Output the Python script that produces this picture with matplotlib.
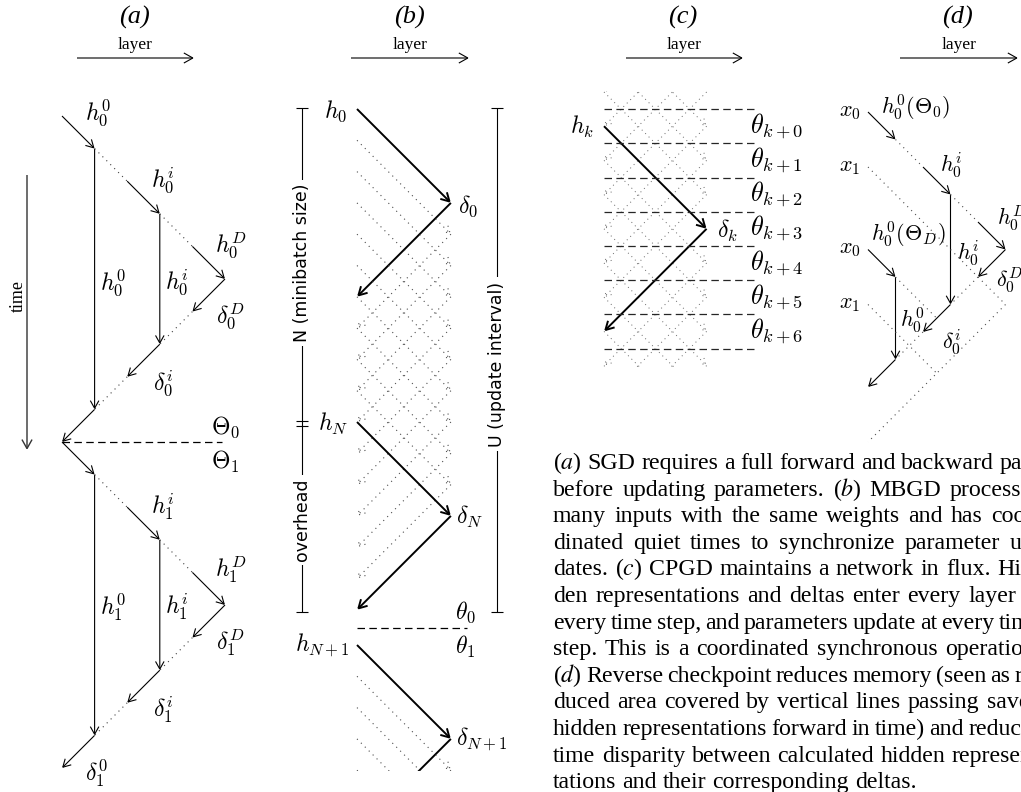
import re
import matplotlib.pyplot as plt
from matplotlib.patches import FancyArrowPatch, Rectangle

plt.rcParams['mathtext.fontset'] = 'cm'
plt.rcParams['font.family'] = ['Liberation Serif', 'DejaVu Serif']

W, H = 1021, 792

# ---------------------------------------------------------------- data
# panel titles and the small "layer" arrows
titles = ['(a)', '(b)', '(c)', '(d)']
title_x = [134, 409, 683, 957]
layer_arrows = [(77, 194), (351, 469), (626, 743), (900, 1018)]

# (a) SGD -- grid of layers (columns) and time steps (rows)
a_origin = (62, 116)
a_step = 32.6
a_cycle_edges = [            # (c0, r0, c1, r1, kind)
    (0, 0, 1, 1, 'arrow'), (1, 1, 2, 2, 'dot'), (2, 2, 3, 3, 'arrow'),
    (3, 3, 4, 4, 'dot'), (4, 4, 5, 5, 'arrow'), (5, 5, 4, 6, 'arrow'),
    (4, 6, 3, 7, 'dot'), (3, 7, 2, 8, 'arrow'), (2, 8, 1, 9, 'dot'),
    (1, 9, 0, 10, 'arrow'), (1, 1, 1, 9, 'arrow'), (3, 3, 3, 7, 'arrow'),
]
a_cycle_rows = [0, 10]
a_labels = [
    (r'$h_0^0$', 98, 113), (r'$h_0^i$', 163, 181), (r'$h_0^D$', 231, 246),
    (r'$h_0^0$', 113, 283), (r'$h_0^i$', 177, 283), (r'$\delta_0^D$', 230, 317),
    (r'$\delta_0^i$', 163, 384),
    (r'$h_1^i$', 163, 507), (r'$h_1^D$', 231, 570), (r'$h_1^0$', 113, 607),
    (r'$h_1^i$', 177, 607), (r'$\delta_1^D$', 230, 643), (r'$\delta_1^i$', 163, 710),
    (r'$\delta_1^0$', 97, 773),
    (r'$\Theta_0$', 225, 427), (r'$\Theta_1$', 225, 462),
]
a_update_row = 10
a_update_end = 222

# (b) MBGD
b_origin = (357, 109)
b_step = 31.3
b_depth = 3
b_batch_size = 10
b_next_start = 645
b_next_items = 6
b_clip_bottom = 771
b_update_y = 628
b_labels = [
    (r'$h_0$', 336, 111), (r'$\delta_0$', 468, 206), (r'$h_N$', 333, 424),
    (r'$\delta_N$', 470, 517), (r'$\theta_0$', 465, 612), (r'$\theta_1$', 465, 647),
    (r'$h_{N+1}$', 322, 645), (r'$\delta_{N+1}$', 482, 739),
]
b_left_bracket = (302, 108, 612)
b_split = (421, 426)
b_right_bracket = (497, 108, 612)

# (c) CPGD
c_origin = (604, 92)
c_step = 34.2
c_depth = 3
c_rows = 8
c_dash_end = 757
c_theta = [r'$\theta_{k+%d}$' % j for j in range(7)]
c_labels = [(r'$h_k$', 582, 127), (r'$\delta_k$', 727, 231)]

# (d) reverse checkpoint
d_origin = (868, 112)
d_step = 27.5
d_edges = [
    (0, 0, 1, 1, 'arrow'), (1, 1, 2, 2, 'dot'), (2, 2, 3, 3, 'arrow'),
    (3, 3, 3, 7, 'arrow'), (3, 3, 4, 4, 'dot'), (4, 4, 5, 5, 'arrow'),
    (5, 5, 4, 6, 'arrow'), (4, 6, 3, 7, 'dot'), (3, 7, 2, 8, 'arrow'),
    (2, 8, 1, 9, 'dot'), (0, 5, 1, 6, 'arrow'), (1, 6, 1, 9, 'arrow'),
    (1, 9, 0, 10, 'arrow'), (0, 2, 5, 7, 'dot'), (5, 7, 0, 12, 'dot'),
    (1, 6, 2.5, 7.5, 'dot'), (0, 7, 2.5, 9.5, 'dot'),
]
d_labels = [
    (r'$x_0$', 850, 113), (r'$h_0^0(\Theta_0)$', 916, 108), (r'$x_1$', 850, 168),
    (r'$h_0^i$', 951, 165), (r'$h_0^D$', 1012, 218), (r'$h_0^0(\Theta_D)$', 908, 235),
    (r'$x_0$', 850, 250), (r'$h_0^i$', 968, 253), (r'$\delta_0^D$', 1010, 280),
    (r'$x_1$', 850, 305), (r'$h_0^0$', 912, 320), (r'$\delta_0^i$', 952, 342),
]

caption_lines = [
    "(a) SGD requires a full forward and backward pass",
    "before updating parameters. (b) MBGD processes",
    "many inputs with the same weights and has coor-",
    "dinated quiet times to synchronize parameter up-",
    "dates. (c) CPGD maintains a network in flux. Hid-",
    "den representations and deltas enter every layer at",
    "every time step, and parameters update at every time",
    "step. This is a coordinated synchronous operation.",
    "(d) Reverse checkpoint reduces memory (seen as re-",
    "duced area covered by vertical lines passing saved",
    "hidden representations forward in time) and reduces",
    "time disparity between calculated hidden represen-",
    "tations and their corresponding deltas.",
]
cap_left, cap_right = 553, 1041
cap_base, cap_lead = 469, 26.6
cap_size = 17.2

# ---------------------------------------------------------------- drawing
fig = plt.figure(figsize=(W / 100, H / 100), dpi=100)
ax = fig.add_axes([0, 0, 1, 1])
ax.set_xlim(0, W)
ax.set_ylim(H, 0)
ax.axis('off')

DOT = (0, (1, 4))
DASH = (0, (6, 3.5))


def arrow(p0, p1, lw=0.8, ls='-', color='black', ms=11, clip=None):
    pa = FancyArrowPatch(p0, p1, arrowstyle='->,head_length=0.5,head_width=0.28',
                         mutation_scale=ms, lw=lw, ls=ls, color=color,
                         shrinkA=0, shrinkB=0, joinstyle='miter', capstyle='butt')
    ax.add_patch(pa)
    if clip is not None:
        pa.set_clip_path(clip)
    return pa


def line(p0, p1, lw=0.8, ls='-', color='black', clip=None):
    ln, = ax.plot([p0[0], p1[0]], [p0[1], p1[1]], lw=lw, ls=ls, color=color,
                  solid_capstyle='butt')
    if clip is not None:
        ln.set_clip_path(clip)
    return ln


def label(s, x, y, size=17, **kw):
    ax.text(x, y, s, fontsize=size, ha='center', va='center', **kw)


# titles and layer arrows
for t, tx, (x0, x1) in zip(titles, title_x, layer_arrows):
    ax.text(tx, 17, t, fontsize=19, style='italic', ha='center', va='center')
    ax.text((x0 + x1) / 2, 45, 'layer', fontsize=12.5, ha='center', va='center')
    arrow((x0, 58), (x1, 58), lw=0.8, ms=13)

# time arrow
ax.text(18, 296, 'time', fontsize=13, rotation=90, ha='center', va='center')
arrow((27, 175), (27, 450), lw=1.0, ms=13, color='0.2')


# ---- (a)
def a_pt(c, r):
    return (a_origin[0] + c * a_step, a_origin[1] + r * a_step)


for r0 in a_cycle_rows:
    for c0, ra, c1, rb, kind in a_cycle_edges:
        p0, p1 = a_pt(c0, ra + r0), a_pt(c1, rb + r0)
        if kind == 'arrow':
            arrow(p0, p1, lw=0.8)
        else:
            line(p0, p1, lw=0.8, ls=DOT, color='0.25')
ya = a_pt(0, a_update_row)[1]
line((a_origin[0], ya), (a_update_end, ya), lw=0.9, ls=DASH)
for s, x, y in a_labels:
    label(s, x, y)


# ---- (b)
def b_pt(c, r, y0=b_origin[1]):
    return (b_origin[0] + c * b_step, y0 + r * b_step)


for k in range(b_batch_size + 1):
    solid = k in (0, b_batch_size)
    fw = (b_pt(0, k), b_pt(b_depth, k + b_depth))
    bw = (b_pt(b_depth, k + b_depth), b_pt(0, k + 2 * b_depth))
    if solid:
        arrow(*fw, lw=1.4, ms=12)
        arrow(*bw, lw=1.4, ms=12)
    else:
        arrow(*fw, lw=0.8, ls=DOT, color='0.3', ms=10)
        arrow(*bw, lw=0.8, ls=DOT, color='0.3', ms=10)

clip_b = Rectangle((330, b_next_start - 5), 160, b_clip_bottom - b_next_start + 5,
                   transform=ax.transData, fc='none', ec='none')
ax.add_patch(clip_b)
for k in range(b_next_items):
    fw = (b_pt(0, k, b_next_start), b_pt(b_depth, k + b_depth, b_next_start))
    bw = (b_pt(b_depth, k + b_depth, b_next_start), b_pt(0, k + 2 * b_depth, b_next_start))
    if k == 0:
        arrow(*fw, lw=1.4, ms=12, clip=clip_b)
        arrow(*bw, lw=1.4, ms=12, clip=clip_b)
    else:
        arrow(*fw, lw=0.8, ls=DOT, color='0.3', ms=10, clip=clip_b)
        arrow(*bw, lw=0.8, ls=DOT, color='0.3', ms=10, clip=clip_b)

line((b_origin[0], b_update_y), (467, b_update_y), lw=0.9, ls=DASH)
for s, x, y in b_labels:
    label(s, x, y)

# brackets
bx, by0, by1 = b_left_bracket
line((bx, by0), (bx, by1), lw=0.8)
for yy in (by0, by1) + b_split:
    line((bx - 6, yy), (bx + 6, yy), lw=0.8)
ax.text(bx, 263, 'N (minibatch size)', family='DejaVu Sans', fontsize=12.5,
        rotation=90, ha='center', va='center',
        bbox=dict(fc='white', ec='none', pad=3))
ax.text(bx, 520, 'overhead', family='DejaVu Sans', fontsize=12.5,
        rotation=90, ha='center', va='center',
        bbox=dict(fc='white', ec='none', pad=3))
bx, by0, by1 = b_right_bracket
line((bx, by0), (bx, by1), lw=0.8)
for yy in (by0, by1):
    line((bx - 6, yy), (bx + 6, yy), lw=0.8)
ax.text(bx, 364, 'U (update interval)', family='DejaVu Sans', fontsize=12.5,
        rotation=90, ha='center', va='center',
        bbox=dict(fc='white', ec='none', pad=3))


# ---- (c)
def c_pt(c, r):
    return (c_origin[0] + c * c_step, c_origin[1] + r * c_step)


clip_c = Rectangle((c_origin[0] - 8, c_origin[1] - 1), c_depth * c_step + 16,
                   c_rows * c_step + 3, transform=ax.transData, fc='none', ec='none')
ax.add_patch(clip_c)
for r in range(-c_depth, c_rows + 1):
    if r != 1:
        arrow(c_pt(0, r), c_pt(c_depth, r + c_depth), lw=0.7, ls=DOT,
              color='0.4', ms=9, clip=clip_c)
    if r != 1 + c_depth:
        arrow(c_pt(c_depth, r), c_pt(0, r + c_depth), lw=0.7, ls=DOT,
              color='0.4', ms=9, clip=clip_c)
arrow(c_pt(0, 1), c_pt(c_depth, 1 + c_depth), lw=1.4, ms=12)
arrow(c_pt(c_depth, 1 + c_depth), c_pt(0, 1 + 2 * c_depth), lw=1.4, ms=12)
for j in range(len(c_theta) + 1):
    y = c_origin[1] + (j + 0.5) * c_step
    line((c_origin[0], y), (c_dash_end, y), lw=0.9, ls=DASH, color='0.15')
for j, s in enumerate(c_theta):
    ax.text(750, c_origin[1] + (j + 1) * c_step, s, fontsize=19,
            ha='left', va='center')
for s, x, y in c_labels:
    label(s, x, y)


# ---- (d)
def d_pt(c, r):
    return (d_origin[0] + c * d_step, d_origin[1] + r * d_step)


for c0, ra, c1, rb, kind in d_edges:
    if kind == 'arrow':
        arrow(d_pt(c0, ra), d_pt(c1, rb), lw=0.8)
    else:
        line(d_pt(c0, ra), d_pt(c1, rb), lw=0.8, ls=DOT, color='0.3')
for s, x, y in d_labels:
    label(s, x, y, size=16)

# ---- caption, justified
fig.canvas.draw()
renderer = fig.canvas.get_renderer()
space = 0.25 * cap_size * 100 / 72


def cap_word(w, y):
    s = re.sub(r'\(([abcd])\)', r'($\\mathit{\1}$)', w)
    return ax.text(0, y, s, fontsize=cap_size, ha='left', va='baseline',
                   math_fontfamily='stix')


for i, text in enumerate(caption_lines):
    y = cap_base + i * cap_lead
    words = text.split()
    arts = [cap_word(w, y) for w in words]
    widths = [a.get_window_extent(renderer).width for a in arts]
    if i < len(caption_lines) - 1:
        gap = (cap_right - cap_left - sum(widths)) / (len(words) - 1)
        gap = max(gap, 0.5 * space)
    else:
        gap = space
    x = cap_left
    for a, wd in zip(arts, widths):
        a.set_x(x)
        x += wd + gap

fig.savefig('out.png', dpi=100)
